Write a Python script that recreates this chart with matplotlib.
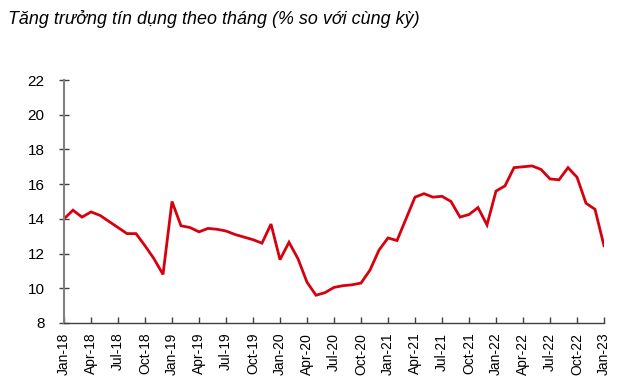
# monthly credit growth, % yoy, Jan-18 .. Jan-23

import matplotlib
matplotlib.use("Agg")
import matplotlib.pyplot as plt
import pandas as pd

title = "Tăng trưởng tín dụng theo tháng (% so với cùng kỳ)"

months = pd.date_range("2018-01-01", "2023-01-01", freq="MS")
labels = [m.strftime("%b-%y") for m in months]

growth = [
    14.0, 14.5, 14.1, 14.4, 14.2, 13.85, 13.5, 13.15, 13.15, 12.45, 11.7, 10.8,   # 2018
    15.0, 13.6, 13.5, 13.25, 13.45, 13.4, 13.3, 13.1, 12.95, 12.8, 12.6, 13.7,    # 2019
    11.65, 12.65, 11.7, 10.35, 9.6, 9.75, 10.05, 10.15, 10.2, 10.3, 11.05, 12.2,  # 2020
    12.9, 12.75, 14.0, 15.25, 15.45, 15.25, 15.3, 15.0, 14.1, 14.25, 14.65, 13.65, # 2021
    15.6, 15.9, 16.95, 17.0, 17.05, 16.85, 16.3, 16.25, 16.95, 16.4, 14.9, 14.55,  # 2022
    12.45,                                                                          # Jan-23
]

yticks = [8, 10, 12, 14, 16, 18, 20, 22]

plt.rcParams["font.family"] = ["Liberation Sans", "DejaVu Sans"]

fig = plt.figure(figsize=(6.35, 3.9), dpi=100)
ax = fig.add_axes([64 / 635, 1 - 323 / 390, 540 / 635, 243 / 390])

x = list(range(len(growth)))
ax.plot(x, growth, color="#d7000f", linewidth=2.0, solid_joinstyle="miter")

ax.set_xlim(0, len(growth) - 1)
ax.set_ylim(8, 22)
ax.set_yticks(yticks)
ax.set_xticks(x[::3])
ax.set_xticklabels(labels[::3], rotation=90, fontsize=10)
ax.tick_params(axis="y", direction="inout", length=7, width=1, color="#404040",
               labelsize=11, pad=10.5)
ax.tick_params(axis="x", direction="in", length=4.5, width=1, color="#404040", pad=7)

for s in ["top", "right"]:
    ax.spines[s].set_visible(False)
ax.spines["left"].set_color("#808080")
ax.spines["left"].set_linewidth(1.5)
ax.spines["bottom"].set_color("#404040")
ax.spines["bottom"].set_linewidth(1)

fig.text(8 / 635, 1 - 19 / 390, title, fontsize=12.9, style="italic", va="center", ha="left")

fig.savefig("out.png", dpi=100)
